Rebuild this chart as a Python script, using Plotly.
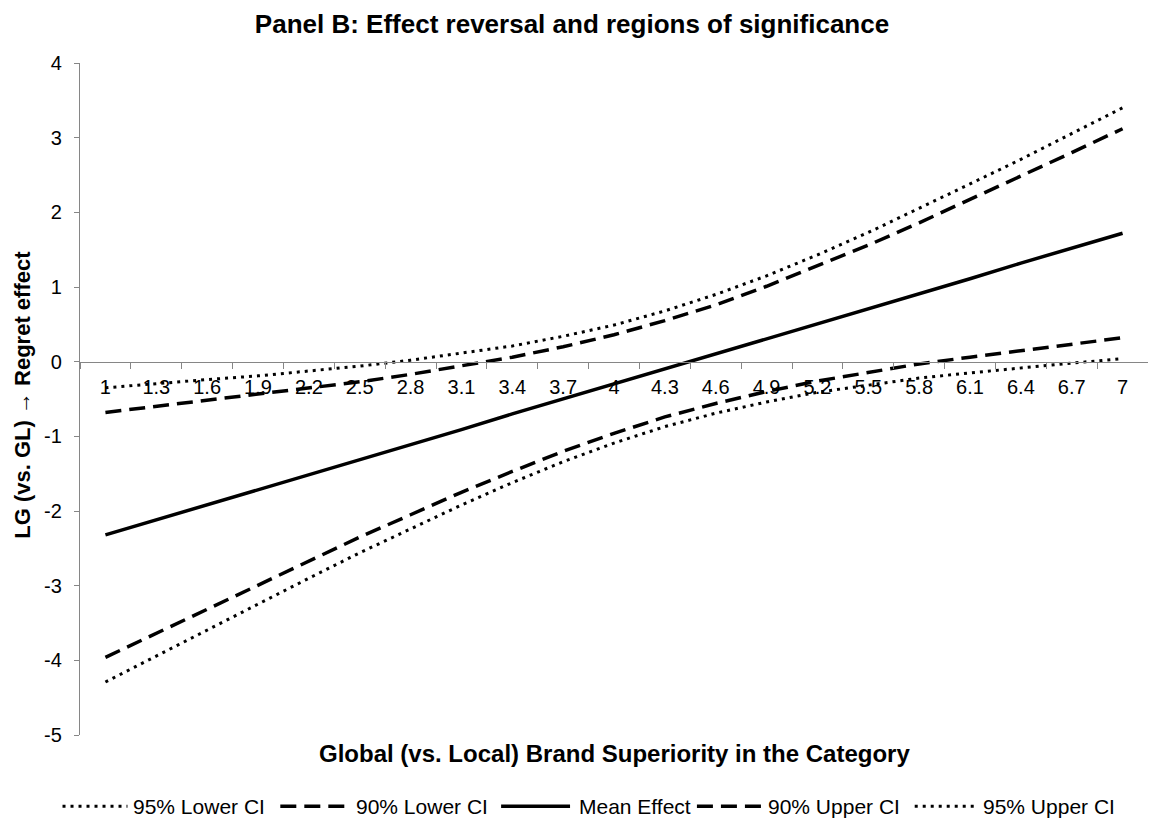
import plotly.graph_objects as go

categories = ["1", "1.3", "1.6", "1.9", "2.2", "2.5", "2.8", "3.1", "3.4", "3.7", "4",
              "4.3", "4.6", "4.9", "5.2", "5.5", "5.8", "6.1", "6.4", "6.7", "7"]

lower95 = [-4.29, -3.94, -3.59, -3.24, -2.90, -2.56, -2.24, -1.92, -1.62, -1.34, -1.09,
           -0.87, -0.69, -0.54, -0.41, -0.31, -0.22, -0.15, -0.08, -0.02, 0.04]
lower90 = [-3.96, -3.64, -3.31, -2.99, -2.67, -2.35, -2.05, -1.75, -1.47, -1.20, -0.96,
           -0.74, -0.56, -0.40, -0.26, -0.14, -0.03, 0.06, 0.15, 0.24, 0.32]
mean_eff = [-2.32, -2.12, -1.92, -1.71, -1.51, -1.31, -1.11, -0.91, -0.70, -0.50, -0.30,
            -0.10, 0.10, 0.31, 0.51, 0.71, 0.91, 1.11, 1.32, 1.52, 1.72]
upper90 = [-0.68, -0.60, -0.52, -0.44, -0.36, -0.27, -0.17, -0.06, 0.06, 0.20, 0.36,
           0.55, 0.76, 1.01, 1.28, 1.56, 1.86, 2.17, 2.48, 2.80, 3.12]
upper95 = [-0.35, -0.30, -0.24, -0.19, -0.12, -0.06, 0.02, 0.11, 0.21, 0.34, 0.49,
           0.68, 0.90, 1.15, 1.43, 1.73, 2.05, 2.38, 2.71, 3.05, 3.40]

y_ticks = [-5, -4, -3, -2, -1, 0, 1, 2, 3, 4]
y_ticktext = ["-5", "-4", "-3", "-2", "-1", "0", "1", "2", "3", "4"]

series_names = ["95% Lower CI", "90% Lower CI", "Mean Effect", "90% Upper CI", "95% Upper CI"]

title_text = "Panel B: Effect reversal and regions of significance"
x_title = "Global (vs. Local) Brand Superiority in the Category"
y_title = "LG (vs. GL) \u2192 Regret effect"

FONT = "Liberation Sans, Arial, sans-serif"
AXIS_GRAY = "#868686"

DOT = dict(color="black", width=3, dash="3px,5px")
DASH = dict(color="black", width=3.5, dash="16px,8px")
SOLID = dict(color="black", width=3.5)
styles = [DOT, DASH, SOLID, DASH, DOT]
values = [lower95, lower90, mean_eff, upper90, upper95]

fig = go.Figure()
for name, vals, line in zip(series_names, values, styles):
    fig.add_trace(go.Scatter(x=categories, y=vals, name=name, mode="lines",
                             line=line, showlegend=False))

# the page body adds an 8px offset; work in page pixels and convert
OFF = 8
W, H = 1156 - OFF, 832 - OFF
PLOT_LEFT, PLOT_RIGHT, PLOT_TOP, PLOT_BOTTOM = 79.5, 1148.5, 62.8, 734.8
L = PLOT_LEFT - OFF
R = W - (PLOT_RIGHT - OFF)
T = PLOT_TOP - OFF
B = H - (PLOT_BOTTOM - OFF)
plot_h = H - T - B
plot_w = W - L - R


def px_x(px):
    return (px - OFF - L) / plot_w


def px_y(py):
    return (H - B - (py - OFF)) / plot_h


legend_y = 806
legend_layout = [  # (symbol start, symbol end, text start) in page pixels
    (62, 127, 131),
    (280, 349, 354),
    (501, 570, 577),
    (697, 762, 766),
    (915, 977, 981),
]
shapes = []
annotations = []
for (s0, s1, t0), name, st in zip(legend_layout, series_names, styles):
    shapes.append(dict(type="line", xref="paper", yref="paper",
                       x0=px_x(s0), x1=px_x(s1), y0=px_y(legend_y), y1=px_y(legend_y),
                       line=st))
    annotations.append(dict(text=name, xref="paper", yref="paper",
                            x=px_x(t0), y=px_y(legend_y), xanchor="left", yanchor="middle",
                            showarrow=False,
                            font=dict(family=FONT, size=21, color="black")))

annotations.append(dict(text="<b>" + x_title + "</b>", xref="paper", yref="paper",
                        x=px_x(614), y=px_y(753), xanchor="center", yanchor="middle",
                        showarrow=False, font=dict(family=FONT, size=24, color="black")))
annotations.append(dict(text="<b>" + y_title + "</b>", xref="paper", yref="paper",
                        x=px_x(22), y=px_y(395), xanchor="center", yanchor="middle",
                        textangle=-90, showarrow=False,
                        font=dict(family=FONT, size=22, color="black")))

fig.update_layout(
    width=W, height=H,
    margin=dict(l=L, r=R, t=T, b=B, autoexpand=False),
    paper_bgcolor="white", plot_bgcolor="white",
    font=dict(family=FONT, size=20, color="black"),
    title=dict(text="<b>" + title_text + "</b>", x=(572 - OFF) / W, xref="container",
               xanchor="center", y=1 - (24 - OFF) / H, yref="container", yanchor="middle",
               font=dict(family=FONT, size=26, color="black")),
    showlegend=False,
    xaxis=dict(type="category", categoryorder="array", categoryarray=categories,
               range=[-0.5, len(categories) - 0.5],
               anchor="free", position=5 / 9,
               showline=True, linecolor=AXIS_GRAY, linewidth=1.3,
               ticks="outside", ticklen=6, tickcolor=AXIS_GRAY, tickwidth=1.3,
               tickson="boundaries", ticklabelstandoff=7,
               showgrid=False, zeroline=False,
               tickfont=dict(family=FONT, size=20, color="black")),
    yaxis=dict(range=[-5, 4], tickvals=y_ticks, ticktext=y_ticktext,
               showline=True, linecolor=AXIS_GRAY, linewidth=1.3,
               ticks="outside", ticklen=5, tickcolor=AXIS_GRAY, tickwidth=1.3,
               ticklabelstandoff=8,
               showgrid=False, zeroline=False,
               tickfont=dict(family=FONT, size=20, color="black")),
    shapes=shapes,
    annotations=annotations,
)

fig.write_html("out.html")
